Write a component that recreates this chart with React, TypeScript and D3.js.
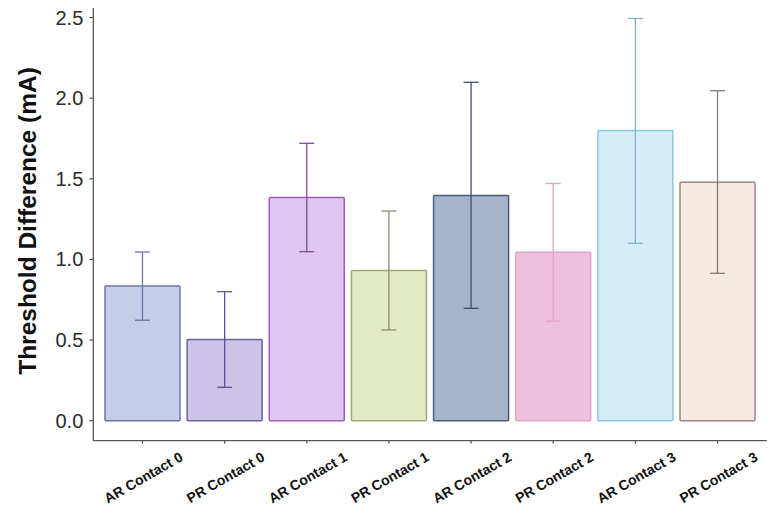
import React from "react";
import * as d3 from "d3";

const categories = [
  "AR Contact 0", "PR Contact 0", "AR Contact 1", "PR Contact 1",
  "AR Contact 2", "PR Contact 2", "AR Contact 3", "PR Contact 3",
];
const means = [0.835, 0.504, 1.384, 0.931, 1.397, 1.044, 1.8, 1.479];
const errLow = [0.623, 0.207, 1.048, 0.563, 0.697, 0.617, 1.1, 0.914];
const errHigh = [1.046, 0.8, 1.72, 1.3, 2.098, 1.471, 2.494, 2.046];
const yTicks = [0, 0.5, 1.0, 1.5, 2.0, 2.5];
const fills = ["#c6cde8", "#cbc4e6", "#e0c6f0", "#e2ebc3", "#a5b4cb", "#efc0d9", "#d4edf8", "#f6ebe4"];
const strokes = ["#6d76a4", "#6c60a0", "#9a5db3", "#a0aa76", "#4a5b73", "#e0a6c8", "#8bc8de", "#9c8680"];
const errColors = ["#6a76a6", "#5e4f98", "#7e4f92", "#8a8f6a", "#3f5068", "#e2a6c6", "#7fb3c8", "#8c7670"];

const W = 780;
const H = 517;

export default function App() {
  const x = d3.scaleBand<string>()
    .domain(categories)
    .range([101.4, 758.6])
    .paddingInner(0.087)
    .paddingOuter(0.0435);
  const y = d3.scaleLinear().domain([-0.124, 2.559]).range([440.7, 8]);
  const axisX = 93.3;
  const axisY = 440.7;
  const axisColor = "#555";
  const bw = x.bandwidth();
  return (
    <svg width={W} height={H} style={{ position: "absolute", left: 0, top: 0, background: "#fff" }}
      fontFamily="Liberation Sans, Arial, sans-serif">
      {categories.map((c, i) => {
        const x0 = x(c)!;
        const cx = x0 + bw / 2;
        return (
          <g key={c}>
            <rect x={x0} y={y(means[i])} width={bw} height={y(0) - y(means[i])}
              fill={fills[i]} stroke={strokes[i]} strokeWidth={1.5} rx={1} />
            <line x1={cx} x2={cx} y1={y(errLow[i])} y2={y(errHigh[i])} stroke={errColors[i]} strokeWidth={1.3} />
            <line x1={cx - 7.5} x2={cx + 7.5} y1={y(errLow[i])} y2={y(errLow[i])} stroke={errColors[i]} strokeWidth={1.3} />
            <line x1={cx - 7.5} x2={cx + 7.5} y1={y(errHigh[i])} y2={y(errHigh[i])} stroke={errColors[i]} strokeWidth={1.3} />
          </g>
        );
      })}
      <line x1={axisX} x2={axisX} y1={8} y2={axisY} stroke={axisColor} strokeWidth={1.3} />
      <line x1={axisX} x2={766.7} y1={axisY} y2={axisY} stroke={axisColor} strokeWidth={1.3} />
      {yTicks.map((t) => (
        <g key={t}>
          <line x1={axisX - 4} x2={axisX} y1={y(t)} y2={y(t)} stroke={axisColor} strokeWidth={1.2} />
          <text x={axisX - 10} y={y(t)} dy="0.35em" textAnchor="end" fontSize={20} fill="#2b2b2b">
            {t.toFixed(1)}
          </text>
        </g>
      ))}
      {categories.map((c) => {
        const cx = x(c)! + bw / 2;
        return (
          <g key={"t" + c}>
            <line x1={cx} x2={cx} y1={axisY} y2={axisY + 3} stroke={axisColor} strokeWidth={1.2} />
            <text transform={`translate(${cx + 1},477.5) rotate(-30)`} textAnchor="middle" dy="0.35em"
              fontSize={14} fontWeight="bold" fill="#111">
              {c}
            </text>
          </g>
        );
      })}
      <text transform="translate(27,221) rotate(-90)" textAnchor="middle" dy="0.35em"
        fontSize={24.5} fontWeight="bold" fill="#111">
        Threshold Difference (mA)
      </text>
    </svg>
  );
}
